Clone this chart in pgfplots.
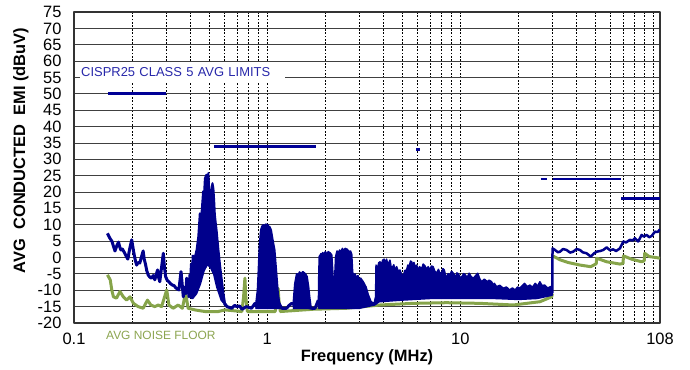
\documentclass[border=0pt]{standalone}
\usepackage{fontspec}
\setmainfont{Liberation Sans}
\usepackage{pgfplots}
\pgfplotsset{compat=1.18}
\definecolor{emi}{RGB}{0,0,140}
\definecolor{lim}{RGB}{0,0,150}
\definecolor{flr}{RGB}{134,164,74}
\definecolor{lbl}{RGB}{40,40,170}
\definecolor{flrtxt}{RGB}{140,165,80}
\begin{document}
\begin{tikzpicture}
\begin{axis}[
 at={(0,0)}, anchor=south west,
 scale only axis, width=586bp, height=311bp,
 xmode=log, xmin=0.1, xmax=108, ymin=-20, ymax=75,
 xtick={0.1,1,10,108}, xticklabels={0.1,1,10,108},
 minor xtick={0.2,0.3,0.4,0.5,0.6,0.7,0.8,0.9,2,3,4,5,6,7,8,9,20,30,40,50,60,70,80,90,100},
 ytick={-20,-15,...,75},
 xmajorgrids, xminorgrids, ymajorgrids,
 major x grid style={black, dash pattern=on 1.8bp off 1.6bp, line width=0.9bp},
 minor x grid style={black, dash pattern=on 1.8bp off 1.6bp, line width=0.9bp},
 major y grid style={black!75, line width=0.9bp},
 major tick length=0, minor tick length=0,
 axis line style={black!80, line width=1.2bp},
 tick label style={font=\fontsize{16.5}{16.5}\selectfont},
 /pgf/number format/assume math mode=true,
 yticklabel style={xshift=-9bp},
 xticklabel style={yshift=-7bp},
 xlabel={Frequency (MHz)}, ylabel={AVG\ \ CONDUCTED\ \ EMI\ (dBuV)},
 label style={font=\bfseries\fontsize{16.5}{16.5}\selectfont},
 xlabel style={at={(axis description cs:0.5,-0.1254)}, anchor=base},
 ylabel style={at={(axis description cs:-0.0836,0.5547)}, anchor=base},
 clip mode=individual,
 line join=round,
]
% ---------- noise floor ----------
\addplot[flr, line width=3bp] coordinates {
(0.149,-5.3)(0.154,-6.8)(0.157,-10)(0.160,-12.0)(0.166,-12.4)(0.173,-10.4)(0.180,-12.0)(0.187,-13.0)
(0.195,-12.0)(0.203,-14.0)(0.215,-15.0)(0.228,-15.5)(0.240,-13.0)(0.250,-14.5)(0.262,-15.0)(0.273,-14.5)
(0.284,-15.0)(0.302,-9.9)(0.310,-14.5)(0.326,-15.5)(0.346,-14.5)(0.364,-15.5)(0.378,-10.9)(0.390,-15.5)
(0.423,-16.0)(0.476,-16.5)(0.558,-16.5)(0.605,-16.0)(0.74,-16.5)(0.755,-12)(0.767,-6.3)(0.775,-12)
(0.79,-16.5)(1.10,-16.5)(1.13,-12)(1.14,-9.4)(1.15,-13)(1.17,-16.5)(1.73,-15.8)(2.58,-15.5)
(3.84,-14.5)(5.7,-14.0)(8.49,-13.8)(12.63,-14.0)(18.78,-14.5)(25.82,-13.5)(29.7,-12.0)(29.95,-11)
};
\addplot[flr, line width=3bp] coordinates {
(30.1,0.5)(32.8,-0.7)(36,-1.5)(41.6,-2.3)(47.3,-2.8)(50.5,-1.9)(50.8,-0.2)(57.2,-1.3)(67,-2.0)
(69.5,-1.8)(69.9,0.5)(77,-0.5)(86.8,-1.3)(89.5,-1.0)(90,1.3)(95,0.3)(108,-0.2)
};
% ---------- EMI trace ----------
\addplot[emi, line width=3bp] coordinates {
(0.149,7.4)(0.153,6.0)(0.157,5.0)(0.160,3.5)(0.163,2.0)(0.167,3.8)(0.170,4.7)(0.173,3.0)
(0.175,2.3)(0.178,2.6)(0.182,1.6)(0.186,0.5)(0.190,-0.5)(0.194,2.5)(0.199,5.4)(0.202,3.0)
(0.205,0.8)(0.208,-1.0)(0.211,-2.3)(0.215,-1.5)(0.219,-1.7)(0.223,0.0)(0.228,2.0)(0.231,-0.5)
(0.235,-2.3)(0.238,-4.0)(0.242,-5.3)(0.247,-6.0)(0.252,-6.3)(0.257,-5.5)(0.262,-6.8)(0.267,-5.0)
(0.271,-3.8)(0.274,-6.0)(0.278,-7.4)(0.284,-3.0)(0.290,1.3)(0.294,-3.0)(0.298,-5.8)(0.304,-7.0)
(0.310,-7.4)(0.316,-8.0)(0.323,-8.4)(0.330,-8.6)(0.336,-9.2)(0.342,-9.6)(0.349,-9.9)(0.353,-7.5)
(0.358,-4.3)(0.363,-8.0)(0.368,-12.0)(0.375,-9.0)(0.380,-11)(0.383,-6.3)(0.387,-10)(0.390,-9.0)
(0.394,-12)(0.398,-5.3)(0.402,-10)(0.405,-2.0)(0.410,-6)(0.414,0.8)
};
\addplot[emi, fill=emi, line width=2bp] coordinates {
(0.40,-12)(0.405,-6)(0.414,-3.8)(0.422,0)(0.431,2.3)(0.44,6.4)(0.448,13.5)(0.453,11)(0.458,14.0)
(0.466,20.2)(0.471,19)(0.476,24.2)(0.485,25.3)(0.490,23)(0.496,25.8)(0.500,22)(0.506,15)(0.512,20)
(0.521,22.7)(0.527,21)(0.532,17)(0.536,13)(0.548,8)(0.558,3)(0.57,-2.3)(0.58,-6)(0.594,-11)
(0.605,-14)(0.62,-15)(0.58,-13)(0.55,-9)(0.53,-5)(0.51,-3)(0.49,-2)(0.47,-4)(0.45,-8)(0.43,-11)
(0.41,-12.5)(0.40,-12)
};
\addplot[emi, line width=3bp] coordinates {
(0.6,-14)(0.62,-15)(0.655,-15.5)(0.68,-14.6)(0.695,-15)(0.72,-14.8)(0.74,-15.8)(0.78,-15)(0.83,-15.5)
(0.865,-14)(0.88,-15)(1.15,-14)(1.19,-15.5)(1.26,-15.5)(1.30,-14.6)(1.34,-14)(1.7,-15.5)(1.77,-15.5)(1.84,-13)
};
\addplot[emi, fill=emi, line width=1.5bp] coordinates {
(0.87,-15)(0.89,-10)(0.90,-3.8)(0.91,3)(0.925,8.4)(0.94,9.6)(0.955,10.0)(0.97,9.2)(0.98,10.2)(1.01,10.0)
(1.02,8.9)(1.03,9.5)(1.05,8.4)(1.07,5.5)(1.095,2.3)(1.12,-5)(1.14,-10.9)(1.16,-14)(1.19,-15.5)(0.87,-15.5)
};
\addplot[emi, fill=emi, line width=1.5bp] coordinates {
(1.36,-15)(1.38,-10)(1.39,-7.9)(1.42,-5)(1.45,-5.2)(1.47,-4.4)(1.50,-4.9)(1.53,-4.3)(1.58,-5)(1.61,-5.8)(1.64,-9)
(1.66,-12)(1.69,-15.5)(1.36,-15.5)
};
\addplot[emi, fill=emi, line width=1.5bp] coordinates {
(1.84,-15.5)(1.85,-5)(1.86,0.3)(1.90,1.2)(1.92,0.4)(1.94,1.5)(1.97,1.0)(2.0,1.8)(2.04,1.1)(2.07,1.8)(2.12,1.4)(2.16,0.8)(2.19,-5)
(2.21,-12)(2.22,-12)(2.24,-5)(2.26,0.3)(2.30,2.0)(2.33,1.3)(2.37,2.3)(2.41,1.7)(2.45,2.8)(2.49,2.0)(2.53,2.8)(2.60,2.5)(2.65,1.8)
(2.70,2.0)(2.74,1.0)(2.77,-4.5)(2.81,-5.6)(2.85,-5.0)(2.90,-6.2)(2.95,-5.5)(3.00,-6.9)(3.05,-6.3)(3.15,-7.5)(3.25,-9)(3.34,-11.4)
(3.45,-13.5)(3.58,-14)(3.64,-12)
(3.66,-2.3)(3.72,-3.5)(3.78,-1.6)(3.84,-1.3)(3.9,-2.4)(3.96,-0.8)(4.03,-0.5)(4.09,-1.8)(4.15,-0.5)(4.22,-2.2)
(4.32,-0.8)(4.38,-2.8)(4.45,-3)(4.52,-2.2)(4.59,-3.8)(4.68,-2.8)(4.77,-4.2)(4.87,-3.8)(4.95,-5.0)(5.06,-5.8)
(5.15,-4.0)(5.27,-3.8)(5.35,-2.3)(5.45,-2.5)(5.52,-1.1)(5.60,-1.3)(5.68,-2.6)(5.75,-1.5)(5.85,-3.0)(5.94,-2.3)
(6.05,-3.8)(6.15,-2.8)(6.30,-3.5)(6.42,-2.0)(6.55,-2.5)(6.68,-3.6)(6.82,-2.8)(6.95,-3.9)(7.08,-2.6)(7.23,-2.8)
(7.38,-4.2)(7.54,-4.8)(7.7,-3.6)(7.85,-4.9)(8.00,-4.5)(8.12,-3.4)(8.25,-3.8)(8.38,-5.4)(8.49,-6.2)(8.65,-4.9)
(8.8,-5.5)(9.0,-4.2)(9.20,-4.8)(9.45,-6.0)(9.6,-4.7)(9.77,-5.0)(10.0,-6.2)(10.2,-5.8)(10.4,-4.9)(10.6,-5.3)
(10.85,-6.1)(11.1,-4.8)(11.4,-5.9)(11.7,-6.3)(12.0,-5.5)(12.3,-4.8)(12.6,-6.5)(12.9,-7.4)(13.3,-6.6)(13.8,-7.4)
(14.1,-6.9)(14.5,-7.4)(14.8,-8.4)(15.0,-7.9)(15.4,-8.9)(16.0,-8.5)(16.7,-9.4)(17.3,-9.0)(18.0,-9.9)(18.6,-9.3)
(19.2,-9.9)(19.8,-9.0)(20.3,-9.4)(20.9,-8.6)(21.5,-7.9)(22.2,-8.9)(22.9,-8.4)(23.6,-9.1)(24.4,-7.9)(25.1,-8.7)
(25.8,-7.4)(26.5,-8.6)(27.3,-8.4)(28.3,-9.3)(29.3,-8.9)(29.9,-9)
(29.9,-11.5)(25,-12.5)(20,-12.8)(15,-12.5)(10,-12.5)(7,-12.5)(5,-13)(3.8,-13.5)(3.6,-14.5)
(3.0,-15.5)(2.5,-15.5)(1.84,-15.5)
};
\addplot[emi, line width=2.5bp] coordinates {
(29.9,-10.9)(30.0,2.8)(30.9,2.3)(32.0,1.6)(32.8,1.8)(34,2.6)(35.5,2.3)(37,1.5)(38.4,1.8)(40,2.6)
(41.6,2.3)(43,1.6)(45.0,1.3)(47.3,0.3)(49,1.2)(50.8,1.8)(53,2.0)(54.9,2.3)(57.2,3.1)(59.5,2.2)
(61.8,2.5)(64,2.0)(67.0,2.8)(69.7,4.9)(72,4.6)(75.5,5.4)(78,5.2)(80.1,5.9)(83.3,4.9)(86.8,6.9)
(89,6.4)(92.1,6.9)(95,6.2)(97.8,6.6)(101.7,7.9)(105,7.8)(108,8.6)
};
% ---------- limits ----------
\addplot[lim, line width=2.8bp] coordinates {(0.15,50)(0.3,50)};
\addplot[lim, line width=2.8bp] coordinates {(0.53,34)(1.8,34)};
\addplot[lim, line width=2.8bp] coordinates {(5.9,33)(6.2,33)};
\addplot[lim, line width=2.8bp] coordinates {(26,24)(28,24)};
\addplot[lim, line width=2.8bp] coordinates {(30,24)(68,24)};
\addplot[lim, line width=2.8bp] coordinates {(68,18)(108,18)};
\node[font=\fontsize{13}{13}\selectfont, text=lbl, fill=white, anchor=west, inner xsep=1bp,
      inner ysep=0pt, minimum height=21bp, text width=203bp, align=left]
      at (axis cs:0.1074,56.6) {CISPR25 CLASS 5 AVG LIMITS};
\node[font=\fontsize{12}{12}\selectfont, text=flrtxt, anchor=west, inner sep=0pt]
      at (axis cs:0.1464,-23.7) {AVG NOISE FLOOR};
\end{axis}
\pgfresetboundingbox
\path[use as bounding box] (-74bp,-47bp) rectangle (616bp,323bp);
\end{tikzpicture}
\end{document}
